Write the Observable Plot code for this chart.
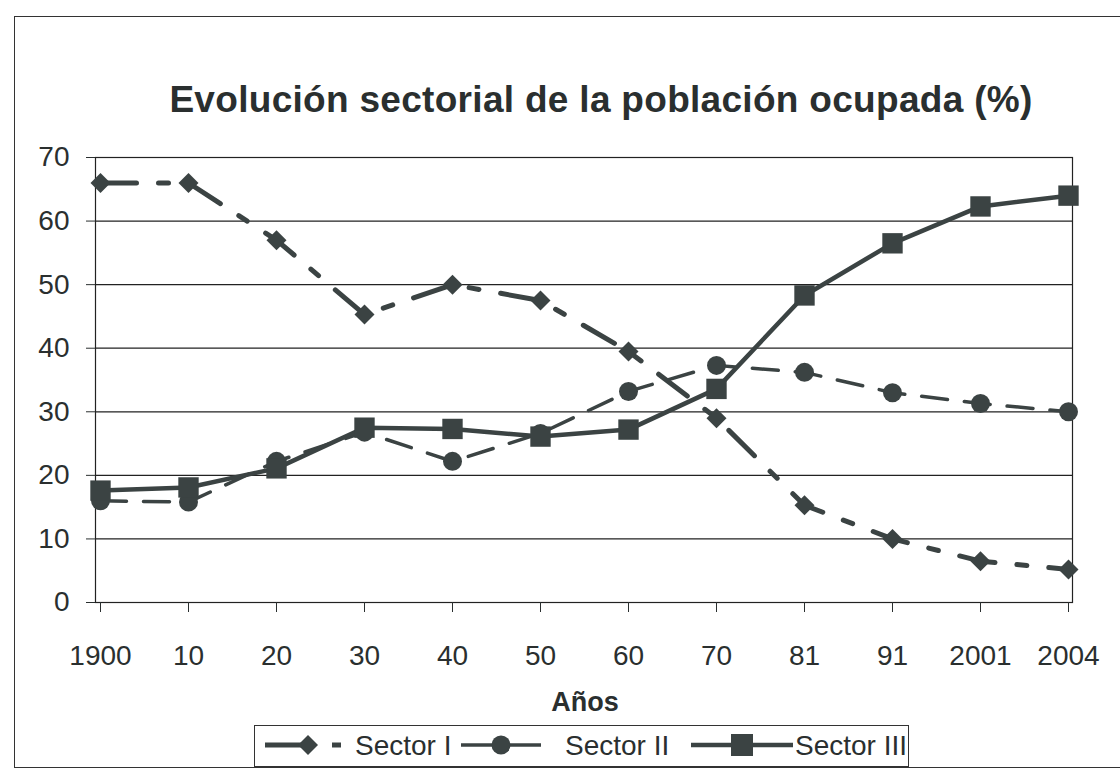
<!DOCTYPE html>
<html><head><meta charset="utf-8">
<script src="https://cdn.jsdelivr.net/npm/d3@7"></script>
<script src="https://cdn.jsdelivr.net/npm/@observablehq/plot@0.6"></script>
<style>
body{margin:0;background:#fff;}
#wrap{position:relative;width:1120px;height:775px;overflow:hidden;font-family:"Liberation Sans",Arial,sans-serif;color:#2a2f2f;background:#fff;}
#frame{position:absolute;left:14px;top:16px;width:1130px;height:752px;border:1.5px solid #333;box-sizing:border-box;}
#title{position:absolute;left:0;top:81px;width:1202px;text-align:center;font-weight:bold;font-size:37px;line-height:37px;letter-spacing:0.3px;}
#chart{position:absolute;left:0;top:0;}
#xlabel{position:absolute;left:0;top:689px;width:1170px;text-align:center;font-weight:bold;font-size:27px;line-height:27px;}
#legend{position:absolute;left:254px;top:725px;width:655px;height:42px;border:1.5px solid #333;box-sizing:border-box;background:#fff;}
</style></head>
<body>
<div id="wrap">
  <div id="frame"></div>
  <div id="chart"></div>
  <div id="title">Evolución sectorial de la población ocupada (%)</div>
  <div id="xlabel">Años</div>
  <div id="legend"></div>
</div>
<script>
const years = ["1900","10","20","30","40","50","60","70","81","91","2001","2004"];
const sectorI   = [66, 66, 57, 45.3, 50, 47.5, 39.5, 29, 15.3, 10, 6.5, 5.2];
const sectorII  = [16, 15.8, 22.2, 26.8, 22.2, 26.6, 33.2, 37.3, 36.2, 33, 31.3, 30];
const sectorIII = [17.6, 18.1, 21.1, 27.5, 27.3, 26.1, 27.2, 33.6, 48.3, 56.5, 62.3, 64];
const yTicks = [0, 10, 20, 30, 40, 50, 60, 70];
const seriesNames = ["Sector I", "Sector II", "Sector III"];

const ink = "#3b4343";
const mk = vals => years.map((y, i) => ({year: y, value: vals[i]}));
const d1 = mk(sectorI), d2 = mk(sectorII), d3v = mk(sectorIII);

const chart = Plot.plot({
  width: 1120, height: 775,
  marginLeft: 95, marginRight: 48, marginTop: 157, marginBottom: 173,
  x: {type: "point", domain: years, padding: 0},
  y: {domain: [0, 70]},
  style: {fontFamily: "'Liberation Sans', Arial, sans-serif", fontSize: "28px", color: "#2a2f2f", background: "transparent", overflow: "visible"},
  marks: [
    Plot.ruleY(yTicks, {stroke: "#222", strokeWidth: 1.2}),
    Plot.frame({stroke: "#222", strokeWidth: 1.2}),
    Plot.axisY({ticks: yTicks, tickSize: 9, tickPadding: 17, fontSize: 28, label: null}),
    Plot.axisX({tickSize: 10, tickPadding: 33, fontSize: 28, label: null}),
    Plot.line(d1, {x: "year", y: "value", stroke: ink, strokeWidth: 5, strokeDasharray: "36,22,10,22"}),
    Plot.line(d2, {x: "year", y: "value", stroke: ink, strokeWidth: 3.5, strokeDasharray: "26,17"}),
    Plot.line(d3v, {x: "year", y: "value", stroke: ink, strokeWidth: 4.5}),
    Plot.dot(d1, {x: "year", y: "value", symbol: "diamond2", r: 9, fill: ink, stroke: "none"}),
    Plot.dot(d2, {x: "year", y: "value", symbol: "circle", r: 9.5, fill: ink, stroke: "none"}),
    Plot.dot(d3v, {x: "year", y: "value", symbol: "square", r: 11.5, fill: ink, stroke: "none"})
  ]
});
document.getElementById("chart").appendChild(chart);

// Legend (decorative swatches + real text)
const ns = "http://www.w3.org/2000/svg";
const lg = document.createElementNS(ns, "svg");
lg.setAttribute("width", 652); lg.setAttribute("height", 39);
lg.style.position = "absolute"; lg.style.left = "0"; lg.style.top = "0";
const cy = 19;
function el(tag, attrs){const e=document.createElementNS(ns,tag);for(const k in attrs)e.setAttribute(k,attrs[k]);lg.appendChild(e);return e;}
// Sector I
el("line",{x1:10,x2:48,y1:cy,y2:cy,stroke:ink,"stroke-width":5});
el("path",{d:`M53,${cy-10}L63,${cy}L53,${cy+10}L43,${cy}Z`,fill:ink});
el("line",{x1:77,x2:86,y1:cy,y2:cy,stroke:ink,"stroke-width":5});
// Sector II
el("line",{x1:206,x2:286,y1:cy,y2:cy,stroke:ink,"stroke-width":3.5});
el("circle",{cx:246,cy:cy,r:9.5,fill:ink});
// Sector III
el("line",{x1:436,x2:538,y1:cy,y2:cy,stroke:ink,"stroke-width":4.5});
el("rect",{x:476,y:cy-11,width:22,height:22,fill:ink});
const labels = [[100, seriesNames[0]],[310, seriesNames[1]],[540, seriesNames[2]]];
for (const [x, t] of labels) {
  const tx = el("text",{x:x,y:cy+10,"font-size":28,"font-family":"'Liberation Sans', Arial, sans-serif",fill:"#2a2f2f"});
  tx.textContent = t;
}
document.getElementById("legend").appendChild(lg);
</script>
</body></html>
